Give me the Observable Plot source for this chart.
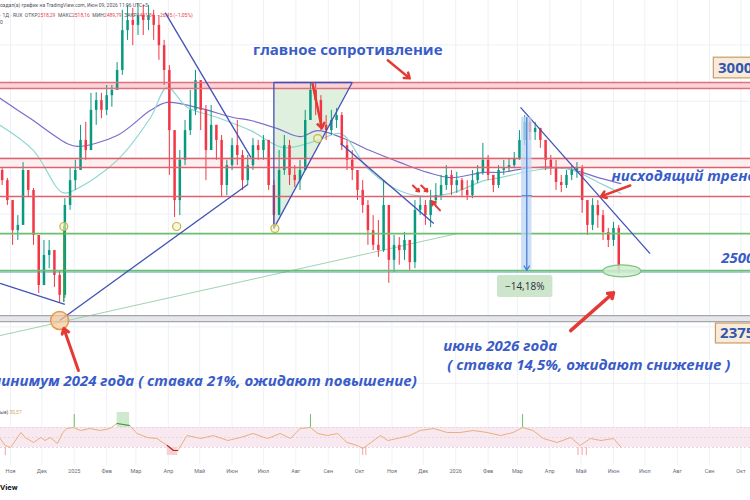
<!DOCTYPE html>
<html><head><meta charset="utf-8">
<script src="https://cdn.jsdelivr.net/npm/d3@7"></script>
<script src="https://cdn.jsdelivr.net/npm/@observablehq/plot@0.6"></script>
<style>
html,body{margin:0;padding:0;background:#fff;}
#wrap{position:relative;width:750px;height:500px;overflow:hidden;background:#fff;font-family:Roboto,"Noto Sans",sans-serif;}
#main{position:absolute;left:0;top:0;}
#osc{position:absolute;left:0;top:400px;}
.hdr{position:absolute;left:0;font-size:5px;color:#50535e;white-space:nowrap;line-height:6px;}
.red{color:#e0454f;}
</style></head><body>
<div id="wrap">
  <div id="main"></div>
  <div id="osc"></div>
  <div class="hdr" style="top:2px">оздал(а) график на TradingView.com, Июн 09, 2026 11:06 UTC+3</div>
  <div class="hdr" style="top:12px">· 1Д · RUX &nbsp;ОТКР<span class="red">2518,29</span> &nbsp;МАКС<span class="red">2518,16</span> &nbsp;МИН<span class="red">2489,79</span> &nbsp;ЗАКР<span class="red">2491,84</span> &nbsp;<span class="red">−26,45 (−1,05%)</span></div>
  <div class="hdr" style="top:19px">0</div>
  <div class="hdr" style="top:409px">ые) <span style="color:#e3a35c">30,57</span></div>
  <div style="position:absolute;left:0;top:483px;font:bold 8px Roboto,sans-serif;color:#131722">View</div>
</div>
<script>
// ---------- DATA ----------
const candleStart = "2024-10-24";
const candleStepDays = 5;
const firstOpen = 2766;
const closes = [
 2739,2686,2606,2620,2766,2713,2593,2460,2540,2553,
 2487,2434,2673,2739,2766,2846,2819,2926,2952,2926,
 2965,2979,3032,3138,3165,3152,3178,3165,3178,3152,
 3098,3032,2872,2686,2793,2872,2926,3005,2926,2819,
 2886,2846,2726,2779,2832,2806,2739,2779,2832,2819,
 2846,2726,2646,2766,2832,2753,2739,2766,2899,2979,
 2952,2886,2872,2899,2912,2832,2793,2766,2713,2673,
 2606,2567,2553,2673,2527,2567,2553,2580,2521,2660,
 2673,2646,2686,2699,2726,2753,2726,2739,2713,2699,
 2739,2761,2793,2753,2726,2766,2771,2779,2798,2846,
 2894,2867,2878,2846,2793,2771,2734,2726,2753,2766,
 2771,2686,2620,2673,2646,2601,2580,2612,2495];
const highs = [
 2771,2745,2686,2646,2787,2753,2718,2593,2580,2580,
 2553,2500,2691,2771,2793,2886,2894,2971,2973,2971,
 2992,2992,3053,3192,3205,3197,3210,3205,3205,3192,
 3178,3112,3045,2846,2819,2899,2979,3032,3005,2939,
 2939,2886,2859,2793,2851,2899,2819,2806,2851,2846,
 2859,2846,2739,2819,2859,2846,2779,2793,2926,3000,
 3000,2965,2912,2926,2931,2920,2846,2819,2766,2739,
 2686,2646,2633,2739,2660,2593,2588,2601,2580,2686,
 2694,2686,2713,2731,2753,2779,2766,2761,2745,2739,
 2766,2779,2838,2806,2753,2779,2793,2798,2814,2872,
 2912,2904,2894,2878,2846,2806,2793,2753,2766,2779,
 2787,2779,2686,2691,2686,2660,2612,2628,2620];
const lows = [
 2726,2673,2567,2580,2686,2694,2567,2439,2487,2505,
 2455,2415,2426,2660,2713,2766,2793,2872,2886,2904,
 2912,2934,2979,3019,3112,3098,3125,3125,3138,3112,
 3059,2992,2753,2641,2646,2779,2859,2912,2872,2739,
 2832,2793,2694,2699,2766,2779,2713,2726,2766,2793,
 2793,2713,2612,2686,2753,2726,2721,2713,2819,2899,
 2912,2872,2846,2859,2878,2819,2766,2739,2686,2652,
 2567,2553,2535,2548,2466,2495,2514,2527,2500,2505,
 2646,2620,2614,2667,2686,2713,2699,2705,2694,2686,
 2691,2731,2753,2739,2707,2718,2753,2761,2771,2793,
 2832,2846,2846,2825,2766,2753,2713,2707,2718,2739,
 2745,2652,2593,2606,2612,2580,2561,2564,2490];

const ma200Dates = ["2024-10-22","2024-11-20","2024-12-25","2025-01-04","2025-02-11","2025-03-15","2025-03-31","2025-05-02","2025-06-02","2025-06-19","2025-07-14","2025-08-05","2025-08-22","2025-09-16","2025-10-11","2025-11-09","2025-12-05","2025-12-27","2026-01-28","2026-02-13","2026-03-16","2026-04-18","2026-05-20","2026-06-08"];
const ma200Values = [2958,2904,2838,2830,2859,2926,2947,2931,2907,2899,2878,2856,2872,2851,2819,2787,2761,2747,2761,2761,2774,2771,2745,2731];
const ma100Dates = ["2024-10-22","2024-11-23","2024-12-21","2025-01-04","2025-02-11","2025-03-15","2025-03-31","2025-04-19","2025-05-18","2025-06-19","2025-07-20","2025-08-22","2025-09-13","2025-10-08","2025-11-02","2025-11-25","2025-12-27","2026-01-28","2026-02-13","2026-03-16","2026-04-18","2026-05-20","2026-06-08"];
const ma100Values = [2886,2819,2707,2718,2793,2907,2987,2934,2907,2872,2827,2846,2864,2774,2721,2699,2705,2739,2747,2766,2771,2731,2705];

const resistanceBand = [2984, 3000];
const redLevels = [2798, 2774, 2697];
const greenLevel = 2598;
const baseLevels = [2500, 2496];
const supportBand = [2364, 2380];

const trendLines = [
  {x1:"2024-10-22", y1:2466, x2:"2024-12-23", y2:2410},
  {x1:"2024-12-18", y1:2367, x2:"2025-06-16", y2:2729},
  {x1:"2025-03-29", y1:3186, x2:"2025-06-19", y2:2801},
  {x1:"2025-07-11", y1:2612, x2:"2025-09-24", y2:3000},
  {x1:"2025-07-11", y1:2612, x2:"2025-07-11", y2:3000},
  {x1:"2025-07-11", y1:3000, x2:"2025-09-24", y2:3000},
  {x1:"2025-09-13", y1:2838, x2:"2025-12-11", y2:2625},
  {x1:"2026-03-04", y1:2934, x2:"2026-07-06", y2:2545}
];
const longSupport = [{x1:"2024-10-22", y1:2327, x2:"2026-01-02", y2:2598}];
const triangle = [{date:"2025-07-11", lo:2612, hi:3000},{date:"2025-09-24", lo:3000, hi:3000}];

const touchPoints = [
  {date:"2024-12-22", price:2617},{date:"2025-04-09", price:2617},
  {date:"2025-07-12", price:2612},{date:"2025-08-22", price:2851}];
const yearLow = [{date:"2024-12-18", price:2367}];
const bounceLine = [{date:"2024-12-22", from:2617, to:2415}];
const currentLow = [{date:"2026-06-09", price:2499}];

const measure = {x1:"2026-03-05", x2:"2026-03-15", xc:"2026-03-10", top:2907, bottom:2500, mid:2699};
const measureLabel = {x1:"2026-02-10", x2:"2026-04-04", y1:2428, y2:2487, xc:"2026-03-08", yc:2457, text:"−14,18%"};

const redArrows = [
  {x1:"2025-10-28", y1:3059, x2:"2025-11-18", y2:3011, w:2.5},
  {x1:"2026-06-17", y1:2726, x2:"2026-05-20", y2:2697, w:2.5},
  {x1:"2026-04-21", y1:2340, x2:"2026-06-01", y2:2441, w:3.5},
  {x1:"2025-01-05", y1:2234, x2:"2024-12-22", y2:2346, w:3},
  {x1:"2025-08-17", y1:2997, x2:"2025-08-26", y2:2878, w:2.5},
  {x1:"2025-12-17", y1:2660, x2:"2025-12-09", y2:2684, w:2},
  {x1:"2025-11-21", y1:2726, x2:"2025-11-27", y2:2710, w:2},
  {x1:"2025-11-29", y1:2726, x2:"2025-12-05", y2:2710, w:2}
];

const labelBoxes = [
  {x1:"2026-09-05", x2:"2026-11-01", y1:3011, y2:3066, text:"3000", tx:"2026-09-09", ty:3039},
  {x1:"2026-09-07", x2:"2026-11-01", y1:2306, y2:2359, text:"2375", tx:"2026-09-11", ty:2332}
];
const notes = [
  {text:"главное сопротивление", date:"2025-06-21", price:3085, italic:false},
  {text:"нисходящий тренд", date:"2026-05-30", price:2750, italic:true},
  {text:"2500", date:"2026-09-12", price:2532, italic:true},
  {text:"июнь 2026 года", date:"2025-12-20", price:2300, italic:true},
  {text:"( ставка 14,5%, ожидают снижение )", date:"2025-12-24", price:2247, italic:true},
  {text:"минимум 2024 года ( ставка 21%, ожидают повышение)", date:"2024-10-12", price:2205, italic:true}
];

const monthTicks = ["2024-11-01","2024-12-01","2025-01-01","2025-02-01","2025-03-01","2025-04-01","2025-05-01","2025-06-01","2025-07-01","2025-08-01","2025-09-01","2025-10-01","2025-11-01","2025-12-01","2026-01-01","2026-02-01","2026-03-01","2026-04-01","2026-05-01","2026-06-01","2026-07-01","2026-08-01","2026-09-01","2026-10-01"];
const monthLabels = ["Ноя","Дек","2025","Фев","Мар","Апр","Май","Июн","Июл","Авг","Сен","Окт","Ноя","Дек","2026","Фев","Мар","Апр","Май","Июн","Июл","Авг","Сен","Окт"];
const priceGrid = [2200,2350,2650,2800,2950,3100];

const rsiDates = ["2024-10-22","2024-10-27","2024-11-01","2024-11-11","2024-11-15","2024-11-23","2024-11-30","2024-12-04","2024-12-09","2024-12-16","2024-12-21","2024-12-25","2024-12-31","2025-01-07","2025-01-16","2025-01-26","2025-02-04","2025-02-11","2025-02-17","2025-02-23","2025-03-02","2025-03-12","2025-03-21","2025-03-31","2025-04-06","2025-04-10","2025-04-19","2025-05-02","2025-05-14","2025-05-28","2025-06-09","2025-06-21","2025-07-05","2025-07-17","2025-07-27","2025-08-05","2025-08-15","2025-08-22","2025-08-31","2025-09-10","2025-09-19","2025-09-29","2025-10-04","2025-10-08","2025-10-21","2025-10-28","2025-11-06","2025-11-18","2025-11-28","2025-12-11","2025-12-24","2026-01-05","2026-01-18","2026-01-31","2026-02-13","2026-02-25","2026-03-06","2026-03-16","2026-03-26","2026-04-08","2026-04-21","2026-04-30","2026-05-10","2026-05-20","2026-06-01","2026-06-08"];
const rsiValues = [48,34,30,60,50,40,50,44,50,38,60,68,70,64,68,64,68,78,76,74,58,50,48,34,24,24,54,48,54,44,50,58,48,58,48,68,70,58,54,58,40,34,28,34,54,44,48,54,64,68,60,60,64,60,54,60,70,64,48,40,50,34,48,44,48,31];
const rsiBand = [30, 70];
const rsiHighZones = [{x1:"2025-02-11", x2:"2025-02-23", y1:70, y2:100}];
const rsiLowZones = [{x1:"2025-03-31", x2:"2025-04-10", y1:14, y2:30}];
const rsiHighSpikes = ["2025-01-01","2025-08-15","2026-03-06"];
const rsiLowSpikes = ["2024-10-27","2025-10-04","2025-10-07","2026-04-28","2026-05-02","2026-05-06"];

// ---------- BUILD ----------
const D = s => new Date(s + "T00:00:00Z");
const DAY = 864e5;
const t0 = D(candleStart).getTime();
const candles = closes.map((c, i) => {
  const o = i ? closes[i - 1] : firstOpen;
  return {date: new Date(t0 + i * candleStepDays * DAY), open: o, close: c,
          high: Math.max(highs[i], o, c), low: Math.min(lows[i], o, c)};
});
const up = candles.filter(d => d.close >= d.open);
const down = candles.filter(d => d.close < d.open);
const ma200 = ma200Dates.map((d, i) => ({date: D(d), v: ma200Values[i]}));
const ma100 = ma100Dates.map((d, i) => ({date: D(d), v: ma100Values[i]}));
const tl = trendLines.map(d => ({...d, x1: D(d.x1), x2: D(d.x2)}));
const ls = longSupport.map(d => ({...d, x1: D(d.x1), x2: D(d.x2)}));
const tri = triangle.map(d => ({...d, date: D(d.date)}));
const arrows = redArrows.map(d => ({...d, x1: D(d.x1), x2: D(d.x2)}));
const boxes = labelBoxes.map(d => ({...d, x1: D(d.x1), x2: D(d.x2), tx: D(d.tx)}));
const noteData = notes.map(d => ({...d, date: D(d.date)}));
const ticks = monthTicks.map(D);
const xDomain = [new Date(Date.UTC(2024, 9, 22, 10)), new Date(Date.UTC(2026, 9, 10, 2))];
const yDomain = [2154.3, 3218.1];

const ellipse = {draw(ctx) {
  const rx = 19, ry = 6, k = 0.5523;
  ctx.moveTo(rx, 0);
  ctx.bezierCurveTo(rx, k*ry, k*rx, ry, 0, ry);
  ctx.bezierCurveTo(-k*rx, ry, -rx, k*ry, -rx, 0);
  ctx.bezierCurveTo(-rx, -k*ry, -k*rx, -ry, 0, -ry);
  ctx.bezierCurveTo(k*rx, -ry, rx, -k*ry, rx, 0);
  ctx.closePath();
}};

const FONT = "'Open Sans','Noto Sans',sans-serif";
const BLUE = "#3a5cc8";
const RED = "#e53935";

const main = Plot.plot({
  width: 750, height: 400, margin: 0,
  x: {type: "utc", domain: xDomain, axis: null},
  y: {domain: yDomain, axis: null},
  style: {background: "transparent", fontFamily: FONT},
  marks: [
    Plot.ruleX(ticks, {stroke: "#eef0f5"}),
    Plot.ruleY(priceGrid, {stroke: "#eef0f5"}),
    Plot.areaY(tri, {x: "date", y1: "lo", y2: "hi", fill: "#d7eed6", fillOpacity: 0.8}),
    Plot.rect([resistanceBand], {y1: d => d[0], y2: d => d[1], fill: "#f9d3d8"}),
    Plot.rect([[redLevels[1], redLevels[0]]], {y1: d => d[0], y2: d => d[1], fill: "#fdeef0"}),
    Plot.rect([supportBand], {y1: d => d[0], y2: d => d[1], fill: "#e6e7ea"}),
    Plot.link(ls, {x1: "x1", y1: "y1", x2: "x2", y2: "y2", stroke: "#9fd3b0", strokeWidth: 1}),
    Plot.line(ma200, {x: "date", y: "v", stroke: "#7e6cc9", strokeWidth: 1.2, curve: "catmull-rom"}),
    Plot.line(ma100, {x: "date", y: "v", stroke: "#8fd8d2", strokeWidth: 1.2, curve: "catmull-rom"}),
    Plot.ruleX(up, {x: "date", y1: "low", y2: "high", stroke: "#089981", strokeWidth: 1}),
    Plot.ruleX(down, {x: "date", y1: "low", y2: "high", stroke: "#f23645", strokeWidth: 1}),
    Plot.ruleX(up, {x: "date", y1: "open", y2: "close", stroke: "#089981", strokeWidth: 2.5}),
    Plot.ruleX(down, {x: "date", y1: "open", y2: "close", stroke: "#f23645", strokeWidth: 2.5}),
    Plot.ruleY(resistanceBand, {stroke: "#e0707c", strokeWidth: 1.3}),
    Plot.ruleY(redLevels, {stroke: "#e0606c", strokeWidth: 1.5}),
    Plot.ruleY([greenLevel], {stroke: "#6cbf6a", strokeWidth: 1.6}),
    Plot.ruleY([baseLevels[0]], {stroke: "#6cbf6a", strokeWidth: 1.4}),
    Plot.ruleY([baseLevels[1]], {stroke: "#4aa39e", strokeWidth: 1.2}),
    Plot.ruleY(supportBand, {stroke: "#a3a7ad", strokeWidth: 1.2}),
    Plot.link(tl, {x1: "x1", y1: "y1", x2: "x2", y2: "y2", stroke: "#4052b5", strokeWidth: 1.3}),
    Plot.ruleX(bounceLine, {x: d => D(d.date), y1: "from", y2: "to", stroke: "#43a047", strokeWidth: 1.5}),
    Plot.rect([measure], {x1: d => D(d.x1), x2: d => D(d.x2), y1: "bottom", y2: "top", fill: "#bcd5f4", fillOpacity: 0.75}),
    Plot.link([measure], {x1: d => D(d.x1), x2: d => D(d.x2), y1: "mid", y2: "mid", stroke: "#4a7fd6", strokeWidth: 1}),
    Plot.arrow([measure], {x1: d => D(d.xc), x2: d => D(d.xc), y1: "top", y2: "bottom", stroke: "#4a7fd6", strokeWidth: 1.3, headLength: 6}),
    Plot.rect([measureLabel], {x1: d => D(d.x1), x2: d => D(d.x2), y1: "y1", y2: "y2", fill: "#cde6cb", rx: 2}),
    Plot.text([measureLabel], {x: d => D(d.xc), y: "yc", text: "text", fill: "#2a2e39", fontSize: 10}),
    Plot.dot(touchPoints, {x: d => D(d.date), y: "price", r: 4, stroke: "#c3b53e", fill: "#f4f0c4", fillOpacity: 0.6, strokeWidth: 1.2}),
    Plot.dot(yearLow, {x: d => D(d.date), y: "price", r: 9, stroke: "#e39a4d", fill: "#f6c997", fillOpacity: 0.7, strokeWidth: 1.5}),
    Plot.dot(currentLow, {x: d => D(d.date), y: "price", symbol: ellipse, stroke: "#7cc47f", fill: "#cfeccf", fillOpacity: 0.85, strokeWidth: 1.2}),
    Plot.arrow(arrows, {x1: "x1", y1: "y1", x2: "x2", y2: "y2", stroke: RED, strokeWidth: "w", headLength: 9, headAngle: 70}),
    Plot.rect(boxes, {x1: "x1", x2: "x2", y1: "y1", y2: "y2", fill: "#f8ecd8", stroke: "#c99b6c", strokeWidth: 1.2}),
    Plot.text(boxes, {x: "tx", y: "ty", text: "text", textAnchor: "start", fill: "#3157b0", fontSize: 15, fontWeight: "bold"}),
    Plot.text(noteData.filter(d => !d.italic), {x: "date", y: "price", text: "text", textAnchor: "start", fill: BLUE, fontSize: 15, fontWeight: "bold"}),
    Plot.text(noteData.filter(d => d.italic), {x: "date", y: "price", text: "text", textAnchor: "start", fill: BLUE, fontSize: 15, fontWeight: "bold", fontStyle: "italic"})
  ]
});
document.getElementById("main").appendChild(main);

const rsi = rsiDates.map((d, i) => ({date: D(d), v: rsiValues[i]}));
const inZone = (z, d) => d.date >= D(z.x1) && d.date <= D(z.x2);
const osc = Plot.plot({
  width: 750, height: 80, marginTop: 0, marginLeft: 0, marginRight: 0, marginBottom: 15,
  x: {type: "utc", domain: xDomain, ticks: ticks, tickSize: 0, tickPadding: 4, label: null,
      tickFormat: d => monthLabels[ticks.findIndex(t => +t === +d)]},
  y: {domain: [-6, 124], axis: null},
  style: {background: "transparent", fontFamily: "Roboto, sans-serif", fontSize: "5.5px", color: "#6a6d78"},
  marks: [
    Plot.ruleX(ticks, {y1: -6, y2: 124, stroke: "#f0f2f6"}),
    Plot.rect([rsiBand], {y1: d => d[0], y2: d => d[1], fill: "#f8e8f0"}),
    Plot.ruleY(rsiBand, {stroke: "#ead3e2", strokeDasharray: "2,2"}),
    Plot.ruleY([50], {stroke: "#ead3e2", strokeDasharray: "2,2"}),
    Plot.rect(rsiHighZones, {x1: d => D(d.x1), x2: d => D(d.x2), y1: "y1", y2: "y2", fill: "#cfe9cf"}),
    Plot.rect(rsiLowZones, {x1: d => D(d.x1), x2: d => D(d.x2), y1: "y1", y2: "y2", fill: "#f9d0d3"}),
    Plot.ruleX(rsiHighSpikes.map(D), {y1: 70, y2: 96, stroke: "#6abf6a", strokeWidth: 1}),
    Plot.ruleX(rsiLowSpikes.map(D), {y1: 14, y2: 30, stroke: "#f2a3a8", strokeWidth: 1}),
    Plot.line(rsi, {x: "date", y: "v", stroke: "#e9b07a", strokeWidth: 1}),
    Plot.line(rsi.filter(d => rsiHighZones.some(z => inZone(z, d))), {x: "date", y: "v", stroke: "#3c9a3f", strokeWidth: 1.2}),
    Plot.line(rsi.filter(d => rsiLowZones.some(z => inZone(z, d))), {x: "date", y: "v", stroke: "#b3262e", strokeWidth: 1.2})
  ]
});
document.getElementById("osc").appendChild(osc);
</script>
</body></html>
